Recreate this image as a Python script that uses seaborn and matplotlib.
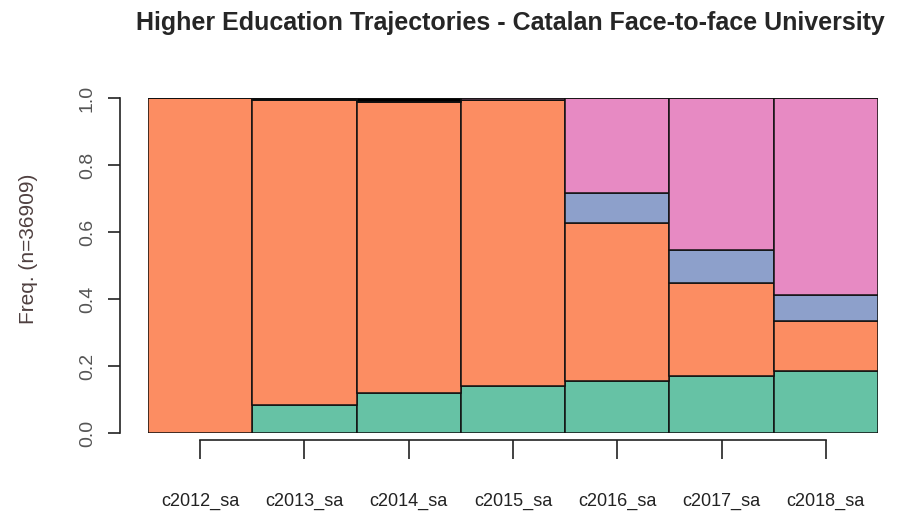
import seaborn as sns
import matplotlib.pyplot as plt
import pandas as pd
import numpy as np

# cross-sectional state distribution per year (bottom -> top)
years = ["c2012_sa", "c2013_sa", "c2014_sa", "c2015_sa", "c2016_sa", "c2017_sa", "c2018_sa"]
green = [0.0, 0.085, 0.12, 0.14, 0.155, 0.17, 0.185]
orange = [1.0, 0.910, 0.868, 0.853, 0.472, 0.278, 0.149]
blue = [0.0, 0.0, 0.0, 0.0, 0.089, 0.098, 0.078]
pink = [0.0, 0.0, 0.0, 0.007, 0.284, 0.454, 0.588]
black = [0.0, 0.005, 0.012, 0.0, 0.0, 0.0, 0.0]
y_ticks = [0.0, 0.2, 0.4, 0.6, 0.8, 1.0]

states = ["s1", "s2", "s3", "s4", "s5"]
colors = ["#66C2A5", "#FC8D62", "#8DA0CB", "#E78AC3", "#000000"]

rows = []
for st, vals in zip(states, [green, orange, blue, pink, black]):
    for i, v in enumerate(vals):
        rows.append({"pos": i, "state": st, "freq": v})
df = pd.DataFrame(rows)

sns.set_style("white")
plt.rcParams["font.family"] = ["Liberation Sans", "DejaVu Sans"]

fig = plt.figure(figsize=(8.97, 5.19), dpi=100)
ax = fig.add_axes([148 / 897, 1 - 433 / 519, 730 / 897, 335 / 519])

# seaborn puts the first hue level on top of the stack, so reverse
sns.histplot(data=df, x="pos", weights="freq", hue="state", hue_order=states[::-1],
             palette=dict(zip(states, colors)), multiple="stack", discrete=True,
             shrink=1, alpha=1, edgecolor="#111111", linewidth=1.1, legend=False, ax=ax)

ax.set_xlim(-0.5, 6.5)
ax.set_ylim(0, 1)
for s in ["top", "right"]:
    ax.spines[s].set_visible(False)
ax.spines["left"].set_position(("outward", 20))
ax.spines["left"].set_bounds(0, 1)
ax.spines["bottom"].set_position(("outward", 5))
ax.spines["bottom"].set_bounds(0, 6)
for s in ["left", "bottom"]:
    ax.spines[s].set_color("#222222")
    ax.spines[s].set_linewidth(1.2)

ax.set_yticks(y_ticks)
ax.set_yticklabels([f"{v:.1f}" for v in y_ticks], rotation=90, va="center",
                   fontsize=14, color="#555555")
ax.set_xticks(range(len(years)))
ax.set_xticklabels(years, fontsize=13, color="#222222")
ax.tick_params(axis="y", length=8.5, width=1.2, color="#222222", pad=9, left=True)
ax.tick_params(axis="x", length=14, width=1.2, color="#222222", pad=24, bottom=True)

ax.set_xlabel("")
ax.set_ylabel("Freq. (n=36909)", fontsize=15, color="#4f4040")
ax.yaxis.set_label_coords(-0.15, 0.55)

fig.suptitle("Higher Education Trajectories - Catalan Face-to-face University",
             x=510 / 897, y=1 - 23 / 519, va="center", fontsize=18, fontweight="bold")

fig.savefig("out.png", dpi=100)
